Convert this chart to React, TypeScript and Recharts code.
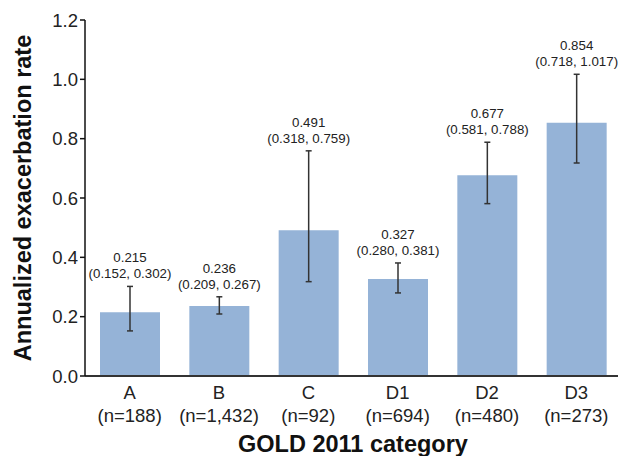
import { Bar, BarChart, ErrorBar, LabelList, XAxis, YAxis, Label } from "recharts";

const categories = ["A", "B", "C", "D1", "D2", "D3"];
const counts = ["188", "1,432", "92", "694", "480", "273"];
const rates = [0.215, 0.236, 0.491, 0.327, 0.677, 0.854];
const ciLow = [0.152, 0.209, 0.318, 0.28, 0.581, 0.718];
const ciHigh = [0.302, 0.267, 0.759, 0.381, 0.788, 1.017];
const yTicks = [0, 0.2, 0.4, 0.6, 0.8, 1.0, 1.2];

const data = categories.map((cat, i) => ({
  cat,
  n: counts[i],
  rate: rates[i],
  err: [rates[i] - ciLow[i], ciHigh[i] - rates[i]],
}));

const FONT = "'Liberation Sans', Arial, sans-serif";

function CategoryTick({ x, y, payload, index }: any) {
  return (
    <text x={x} y={y} textAnchor="middle" fontFamily={FONT} fontSize={18.5} fill="#222">
      <tspan x={x} dy={15}>{payload.value}</tspan>
      <tspan x={x} dy={23}>(n={counts[index]})</tspan>
    </text>
  );
}

function CiLabel({ x, y, width, height, index }: any) {
  const v = rates[index];
  const perUnit = height / v;
  const base = y + height;
  const topY = base - ciHigh[index] * perUnit;
  const cx = x + width / 2;
  return (
    <text textAnchor="middle" fontFamily={FONT} fontSize={13.3} fill="#222">
      <tspan x={cx} y={topY - 24}>{v.toFixed(3)}</tspan>
      <tspan x={cx} y={topY - 8}>
        ({ciLow[index].toFixed(3)}, {ciHigh[index].toFixed(3)})
      </tspan>
    </text>
  );
}

function XTitle({ viewBox }: any) {
  const cx = viewBox.x + viewBox.width / 2;
  return (
    <text x={cx} y={452} textAnchor="middle" fontFamily={FONT} fontSize={23.5} fontWeight="bold" fill="#111">
      GOLD 2011 category
    </text>
  );
}

function YTitle({ viewBox }: any) {
  const cy = viewBox.y + viewBox.height / 2;
  return (
    <text
      x={31}
      y={cy}
      transform={`rotate(-90, 31, ${cy})`}
      textAnchor="middle"
      fontFamily={FONT}
      fontSize={23.5}
      fontWeight="bold"
      fill="#111"
    >
      Annualized exacerbation rate
    </text>
  );
}

export default function App() {
  return (
    <div style={{ position: "absolute", left: 0, top: 0, width: 618, height: 456, overflow: "hidden", background: "#fff" }}>
      <BarChart
        width={624}
        height={456}
        data={data}
        margin={{ top: 20, right: 3, left: 0, bottom: 0 }}
        barSize={60}
      >
        <XAxis
          dataKey="cat"
          height={80}
          tick={<CategoryTick />}
          tickLine={false}
          axisLine={{ stroke: "#333", strokeWidth: 2 }}
          interval={0}
        >
          <Label content={<XTitle />} />
        </XAxis>
        <YAxis
          width={85}
          domain={[0, 1.2]}
          ticks={yTicks}
          tickFormatter={(v: number) => v.toFixed(1)}
          tick={{ fontFamily: FONT, fontSize: 18.5, fill: "#222" }}
          tickLine={{ stroke: "#111", strokeWidth: 1.5 }}
          tickSize={5}
          axisLine={{ stroke: "#111", strokeWidth: 1.5 }}
          allowDataOverflow
        >
          <Label content={<YTitle />} />
        </YAxis>
        <Bar dataKey="rate" fill="#95b3d7" isAnimationActive={false}>
          <ErrorBar dataKey="err" width={3} stroke="#333" strokeWidth={1.5} />
          <LabelList dataKey="rate" content={<CiLabel />} />
        </Bar>
      </BarChart>
    </div>
  );
}
